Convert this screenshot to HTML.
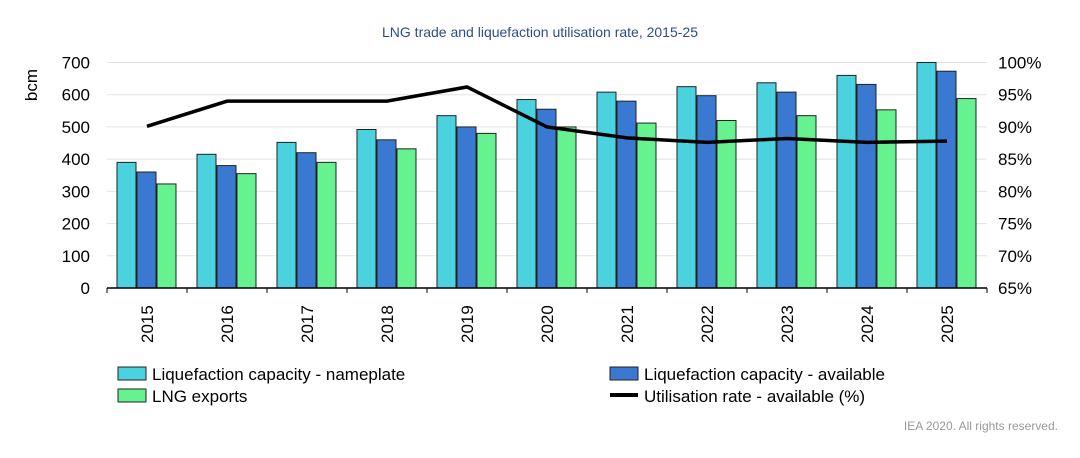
<!DOCTYPE html>
<html><head><meta charset="utf-8"><style>
body{margin:0;background:#fff;font-family:"Liberation Sans",sans-serif}
</style></head><body>
<svg width="1080" height="453" id="c">
<text x="540" y="37" text-anchor="middle" font-size="14" fill="#2a4e8c">LNG trade and liquefaction utilisation rate, 2015-25</text>
<text x="540" y="37" font-size="1" fill="none"></text>
<text transform="translate(37,85) rotate(-90)" text-anchor="middle" font-size="17" fill="#000">bcm</text>
<text x="1058" y="430" text-anchor="end" font-size="12" fill="#999">IEA 2020. All rights reserved.</text>
<g id="plot"></g>
<g>
<rect x="118" y="367" width="28" height="13" fill="#4ad2df" stroke="#222"/>
<text x="152" y="380" font-size="17">Liquefaction capacity - nameplate</text>
<rect x="610" y="367" width="28" height="13" fill="#3a79d2" stroke="#222"/>
<text x="644" y="380" font-size="17">Liquefaction capacity - available</text>
<rect x="118" y="389" width="28" height="13" fill="#66f28e" stroke="#222"/>
<text x="152" y="402" font-size="17">LNG exports</text>
<line x1="610" y1="395" x2="638" y2="395" stroke="#000" stroke-width="4"/>
<text x="644" y="402" font-size="17">Utilisation rate - available (%)</text>
</g>
</svg>
<script>
const years=["2015","2016","2017","2018","2019","2020","2021","2022","2023","2024","2025"];
const nameplate=[390,415,452,492,535,585,608,625,637,660,700];
const available=[360,380,420,460,500,555,580,597,608,632,673];
const exportsV=[323,355,390,432,480,500,512,520,535,553,588];
const util=[90.1,94,94,94,96.2,90,88.3,87.6,88.2,87.6,87.8];
const leftTicks=[0,100,200,300,400,500,600,700];
const rightTicks=[65,70,75,80,85,90,95,100];
const NS="http://www.w3.org/2000/svg";
const g=document.getElementById('plot');
const X0=107,X1=987,Y0=288,Y1=62.5;
const bw=(X1-X0)/years.length;
const y=v=>Y0-(v/700)*(Y0-Y1);
const yr=p=>Y0-((p-65)/35)*(Y0-Y1);
const xc=i=>X0+bw*(i+0.5);
function mk(t,a){const e=document.createElementNS(NS,t);for(const k in a)e.setAttribute(k,a[k]);g.appendChild(e);return e;}
leftTicks.forEach(v=>{
 if(v>0){const l=mk('line',{x1:X0,x2:X1,y1:y(v),y2:y(v),stroke:'#e2e2e2','stroke-width':1});
 
 }
 const t=mk('text',{x:90,y:y(v)+6,'text-anchor':'end','font-size':17});t.textContent=v;
 
 
});
rightTicks.forEach(p=>{
 const t=mk('text',{x:998,y:yr(p)+6,'font-size':17});t.textContent=p+'%';
 
 
});
const series=[[nameplate,'#4ad2df','nameplate'],[available,'#3a79d2','available'],[exportsV,'#66f28e','exports']];
years.forEach((yrs,i)=>{
 series.forEach((s,j)=>{
  const v=s[0][i];
  const r=mk('rect',{x:xc(i)-30+j*20,y:y(v),width:19,height:Y0-y(v),fill:s[1],stroke:'#222','stroke-width':1});
  
  
 });
 const tk=mk('line',{x1:X0+bw*i,x2:X0+bw*i,y1:Y0,y2:Y0+5,stroke:'#000'});
 
 
 const t=mk('text',{transform:`translate(${xc(i)+6},${Y0+55}) rotate(-90)`,'font-size':17});t.textContent=yrs;
 
 
});
const ax=mk('line',{x1:X0,x2:X1,y1:Y0,y2:Y0,stroke:'#000','stroke-width':1.5});


const tkE=mk('line',{x1:X1,x2:X1,y1:Y0,y2:Y0+5,stroke:'#000'});


const pl=mk('polyline',{points:util.map((p,i)=>xc(i)+','+yr(p)).join(' '),fill:'none',stroke:'#000','stroke-width':3.5});


</script>
</body></html>
